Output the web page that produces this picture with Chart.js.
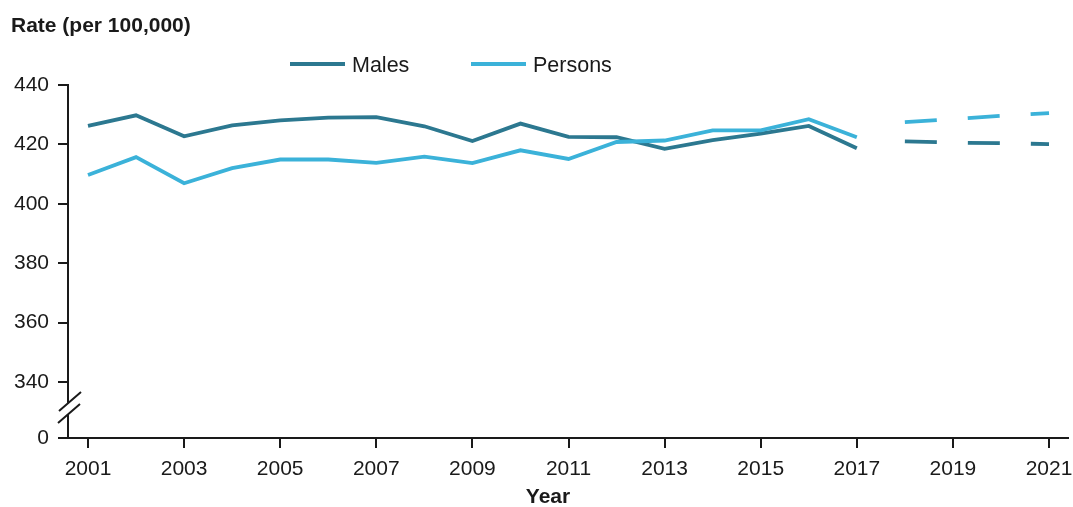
<!DOCTYPE html>
<html>
<head>
<meta charset="utf-8">
<script src="https://cdn.jsdelivr.net/npm/chart.js@4.4.1/dist/chart.umd.min.js"></script>
<style>
  html, body { margin: 0; padding: 0; background: #fff; }
  #wrap { width: 1073px; height: 507px; }
</style>
</head>
<body>
<div id="wrap"><canvas id="rateChart" width="1073" height="507"></canvas></div>
<script>
// Data
const years = [2001, 2002, 2003, 2004, 2005, 2006, 2007, 2008, 2009, 2010, 2011, 2012, 2013, 2014, 2015, 2016, 2017];
const males = [426.2, 429.8, 422.7, 426.4, 428.1, 429.0, 429.2, 426.1, 421.1, 427.0, 422.5, 422.4, 418.5, 421.4, 423.6, 426.2, 418.7];
const persons = [409.7, 415.7, 406.9, 412.0, 414.9, 414.9, 413.8, 415.9, 413.7, 418.0, 415.1, 420.8, 421.3, 424.7, 424.7, 428.5, 422.4];

// Projected values (dashed)
const projYears = [2018, 2019, 2020, 2021];
const malesProj = [421.0, 420.6, 420.4, 420.1];
const personsProj = [427.5, 428.5, 429.6, 430.5];

const yTickValues = [340, 360, 380, 400, 420, 440];
const xTickValues = [2001, 2003, 2005, 2007, 2009, 2011, 2013, 2015, 2017, 2019, 2021];
const seriesNames = ["Males", "Persons"];

const MALE_COLOR = "#2c7890";
const PERSON_COLOR = "#3bb2d9";
const FONT = "'Liberation Sans', Arial, sans-serif";
const BREAK_FLOOR = 321.1;   // where "0" sits below the axis break

function toPoints(xs, ys) {
  return xs.map((x, i) => ({ x: x, y: ys[i] }));
}

// Title, legend, axis title and the axis break marks
const decorations = {
  id: "decorations",
  afterDraw(chart) {
    const ctx = chart.ctx;
    const area = chart.chartArea;
    const yScale = chart.scales.y;
    ctx.save();

    // chart title
    ctx.fillStyle = "#1a1a1a";
    ctx.font = "bold 21px " + FONT;
    ctx.textBaseline = "alphabetic";
    ctx.textAlign = "left";
    ctx.fillText("Rate (per 100,000)", 11, 32);

    // legend
    const legendItems = [
      { label: seriesNames[0], color: MALE_COLOR, x: 290 },
      { label: seriesNames[1], color: PERSON_COLOR, x: 471 }
    ];
    ctx.font = "21.5px " + FONT;
    legendItems.forEach(item => {
      ctx.strokeStyle = item.color;
      ctx.lineWidth = 4;
      ctx.beginPath();
      ctx.moveTo(item.x, 64);
      ctx.lineTo(item.x + 55, 64);
      ctx.stroke();
      ctx.fillStyle = "#1a1a1a";
      ctx.fillText(item.label, item.x + 62, 72);
    });

    // x axis title
    ctx.font = "bold 21px " + FONT;
    ctx.textAlign = "center";
    ctx.fillText("Year", 548, 503);

    // axis break
    const cy = yScale.getPixelForValue(330.9);
    const ax = area.left;
    ctx.fillStyle = "#fff";
    ctx.fillRect(ax - 3, cy - 6, 6, 12);
    ctx.strokeStyle = "#1a1a1a";
    ctx.lineWidth = 2;
    ctx.beginPath();
    ctx.moveTo(ax - 9, cy + 2);
    ctx.lineTo(ax + 13, cy - 17);
    ctx.moveTo(ax - 10, cy + 14);
    ctx.lineTo(ax + 12, cy - 5);
    ctx.stroke();

    ctx.restore();
  }
};

new Chart(document.getElementById("rateChart"), {
  type: "line",
  data: {
    datasets: [
      {
        label: seriesNames[0],
        data: toPoints(years, males),
        borderColor: MALE_COLOR,
        borderWidth: 3.8,
        pointRadius: 0,
        tension: 0,
        order: 2
      },
      {
        label: seriesNames[1],
        data: toPoints(years, persons),
        borderColor: PERSON_COLOR,
        borderWidth: 3.8,
        pointRadius: 0,
        tension: 0,
        order: 1
      },
      {
        label: seriesNames[0] + " (projected)",
        data: toPoints(projYears, malesProj),
        borderColor: MALE_COLOR,
        borderWidth: 3.8,
        borderDash: [32, 31],
        borderCapStyle: "butt",
        pointRadius: 0,
        tension: 0,
        order: 2
      },
      {
        label: seriesNames[1] + " (projected)",
        data: toPoints(projYears, personsProj),
        borderColor: PERSON_COLOR,
        borderWidth: 3.8,
        borderDash: [32, 31],
        borderCapStyle: "butt",
        pointRadius: 0,
        tension: 0,
        order: 1
      }
    ]
  },
  options: {
    responsive: false,
    animation: false,
    layout: { padding: { left: 0, right: 5, top: 85, bottom: 0 } },
    plugins: {
      legend: { display: false },
      title: { display: false },
      tooltip: { enabled: false }
    },
    scales: {
      x: {
        type: "linear",
        min: 2000.584,
        max: 2021.395,
        afterBuildTicks: s => { s.ticks = xTickValues.map(v => ({ value: v })); },
        afterFit: s => { s.height = 69; s.paddingLeft = 0; s.paddingRight = 0; },
        grid: {
          drawOnChartArea: false,
          drawTicks: true,
          tickLength: 10,
          color: "#1a1a1a",
          lineWidth: 2
        },
        border: { display: true, color: "#1a1a1a", width: 2 },
        ticks: {
          color: "#1a1a1a",
          font: { family: FONT, size: 21 },
          padding: 9,
          maxRotation: 0,
          autoSkip: false,
          callback: v => String(v)
        }
      },
      y: {
        type: "linear",
        min: BREAK_FLOOR,
        max: 440,
        afterBuildTicks: s => {
          s.ticks = [BREAK_FLOOR].concat(yTickValues).map(v => ({ value: v }));
        },
        afterFit: s => { s.width = 68; },
        grid: {
          drawOnChartArea: false,
          drawTicks: true,
          tickLength: 10,
          color: "#1a1a1a",
          lineWidth: 2
        },
        border: { display: true, color: "#1a1a1a", width: 2 },
        ticks: {
          color: "#1a1a1a",
          font: { family: FONT, size: 21 },
          padding: 9,
          autoSkip: false,
          callback: v => (v === BREAK_FLOOR ? "0" : String(v))
        }
      }
    }
  },
  plugins: [decorations]
});
</script>
</body>
</html>
